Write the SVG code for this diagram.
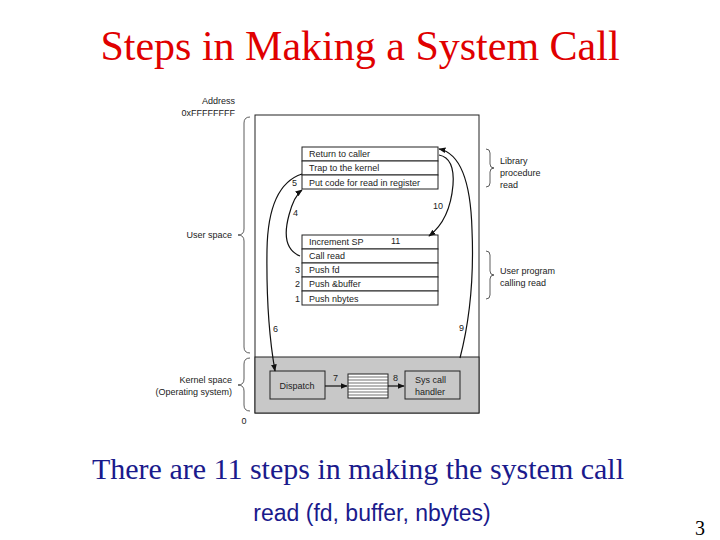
<svg xmlns="http://www.w3.org/2000/svg" width="720" height="540" viewBox="0 0 720 540">
<style>
.t{font-family:"Liberation Sans",Arial,sans-serif;font-size:9px;fill:#222}
.b{fill:#fff;stroke:#222;stroke-width:1}
.c{fill:none;stroke:#111;stroke-width:1.2}
.br{fill:none;stroke:#333;stroke-width:0.8}
.title{font-family:"Liberation Serif","Times New Roman",serif;font-size:42px;fill:#e00000}
</style>
<defs><marker id="a" viewBox="0 0 10 10" refX="9" refY="5" markerWidth="6" markerHeight="6" orient="auto"><path d="M0,1 L10,5 L0,9 z" fill="#111"/></marker></defs>
<rect width="720" height="540" fill="#fff"/>
<text class="title" x="360" y="60" text-anchor="middle">Steps in Making a System Call</text>
<g id="frame">
<rect x="255" y="115" width="224" height="298" fill="#fff" stroke="#222"/>
<rect x="255" y="357" width="224" height="56" fill="#c8c8c8" stroke="#222"/>
</g>
<g id="labels-left">
<text class="t" x="235" y="104" text-anchor="end">Address</text>
<text class="t" x="235" y="116" text-anchor="end">0xFFFFFFFF</text>
<text class="t" x="232" y="238" text-anchor="end">User space</text>
<text class="t" x="232" y="383" text-anchor="end">Kernel space</text>
<text class="t" x="232" y="395" text-anchor="end">(Operating system)</text>
<text class="t" x="244" y="424" text-anchor="middle">0</text>
<path class="br" d="M250,117 Q244,117 244,123 L244,229 Q244,235 238,235 Q244,235 244,241 L244,347 Q244,353 250,353"/>
<path class="br" d="M250,358 Q244,358 244,364 L244,379 Q244,385 238,385 Q244,385 244,391 L244,405 Q244,411 250,411"/>
</g>
<g id="library">
<rect class="b" x="302" y="147" width="136" height="14"/>
<rect class="b" x="302" y="161" width="136" height="14"/>
<rect class="b" x="302" y="175" width="136" height="14"/>
<text class="t" x="309" y="157">Return to caller</text>
<text class="t" x="309" y="171">Trap to the kernel</text>
<text class="t" x="309" y="186">Put code for read in register</text>
<text class="t" x="297" y="186" text-anchor="end">5</text>
<path class="br" d="M486,149 Q490,149 490,153 L490,164 Q490,168 494,168 Q490,168 490,172 L490,183 Q490,187 486,187"/>
<text class="t" x="500" y="164">Library</text>
<text class="t" x="500" y="176">procedure</text>
<text class="t" x="500" y="188">read</text>
</g>
<g id="userprog">
<rect class="b" x="302" y="235" width="136" height="14"/>
<rect class="b" x="302" y="249" width="136" height="14"/>
<rect class="b" x="302" y="263" width="136" height="14"/>
<rect class="b" x="302" y="277" width="136" height="14"/>
<rect class="b" x="302" y="291" width="136" height="14"/>
<text class="t" x="309" y="245">Increment SP</text>
<text class="t" x="391" y="244">11</text>
<text class="t" x="309" y="259">Call read</text>
<text class="t" x="309" y="273">Push fd</text>
<text class="t" x="309" y="287">Push &amp;buffer</text>
<text class="t" x="309" y="302">Push nbytes</text>
<text class="t" x="300" y="273" text-anchor="end">3</text>
<text class="t" x="300" y="287" text-anchor="end">2</text>
<text class="t" x="300" y="302" text-anchor="end">1</text>
<path class="br" d="M486,251 Q490,251 490,255 L490,271 Q490,275 494,275 Q490,275 490,279 L490,295 Q490,299 486,299"/>
<text class="t" x="500" y="274">User program</text>
<text class="t" x="500" y="286">calling read</text>
</g>
<g id="kernel">
<rect x="270" y="371" width="55" height="28" fill="#c8c8c8" stroke="#222"/>
<text class="t" x="297" y="389" text-anchor="middle">Dispatch</text>
<rect x="348" y="374" width="40" height="24" fill="#fff" stroke="#222"/>
<g stroke="#333" stroke-width="0.7">
<line x1="348" y1="377" x2="388" y2="377"/><line x1="348" y1="380" x2="388" y2="380"/><line x1="348" y1="383" x2="388" y2="383"/><line x1="348" y1="386" x2="388" y2="386"/><line x1="348" y1="389" x2="388" y2="389"/><line x1="348" y1="392" x2="388" y2="392"/><line x1="348" y1="395" x2="388" y2="395"/>
</g>
<rect x="405" y="371" width="55" height="28" fill="#c8c8c8" stroke="#222"/>
<text class="t" x="415" y="383">Sys call</text>
<text class="t" x="415" y="395">handler</text>
</g>
<g id="connectors">
<path class="c" marker-end="url(#a)" d="M300,256 Q280,248 289,215 Q294,196 302,190"/>
<path class="c" marker-end="url(#a)" d="M302,174 Q268,185 267,250 Q266,320 275,371"/>
<path class="c" marker-end="url(#a)" d="M325,386 L347,386"/>
<path class="c" marker-end="url(#a)" d="M388,386 L404,386"/>
<path class="c" marker-end="url(#a)" d="M460,358 Q475,300 472,230 Q470,155 439,149"/>
<path class="c" marker-end="url(#a)" d="M439,155 Q455,158 453,185 Q450,220 429,236"/>
<text class="t" x="293" y="216">4</text>
<text class="t" x="273" y="332">6</text>
<text class="t" x="333" y="381">7</text>
<text class="t" x="393" y="381">8</text>
<text class="t" x="459" y="331">9</text>
<text class="t" x="433" y="209">10</text>
</g>
<text x="358" y="479" text-anchor="middle" font-family="Liberation Serif,serif" font-size="30" fill="#1a1a8c">There are 11 steps in making the system call</text>
<text x="372" y="521" text-anchor="middle" font-family="Liberation Sans,sans-serif" font-size="23" fill="#1a1a8c">read (fd, buffer, nbytes)</text>
<text x="700" y="535" text-anchor="middle" font-family="Liberation Serif,serif" font-size="20" fill="#000">3</text>
</svg>
